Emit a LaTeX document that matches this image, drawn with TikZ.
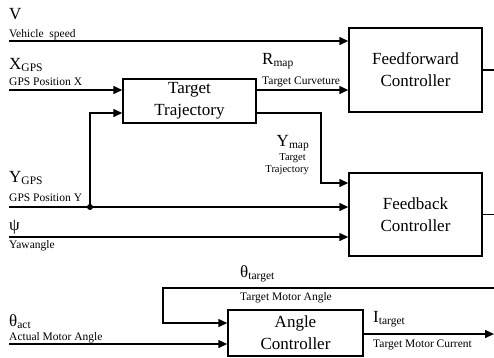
\documentclass[tikz,border=0pt]{standalone}
\usepackage{fontspec}
\setmainfont{Liberation Serif}
\usetikzlibrary{arrows.meta}
\newcommand{\lsub}[1]{\raisebox{-2pt}{\fontsize{11.5}{12}\selectfont #1}}

\begin{document}
\begin{tikzpicture}[x=1pt,y=-1pt,
  block/.style={draw,line width=1.5pt,inner sep=0pt,align=center,font=\fontsize{17}{22}\selectfont},
  sig/.style={line width=1.5pt,-{Triangle[length=9pt,width=8pt]}},
  wire/.style={line width=1.5pt},
  big/.style={inner sep=0pt,anchor=base west,font=\fontsize{17}{17}\selectfont},
  small/.style={inner sep=0pt,anchor=base west,font=\fontsize{11.5}{12}\selectfont},
  tiny/.style={inner sep=0pt,anchor=base east,font=\fontsize{10.5}{11}\selectfont}]
\useasboundingbox (0,0) rectangle (494,357);
\node[block,minimum width=133pt,minimum height=84pt] (ff) at (415.5,70) {Feedforward\\Controller};
\node[block,minimum width=133pt,minimum height=83pt] (fb) at (415.5,214.5) {Feedback\\Controller};
\node[block,minimum width=133pt,minimum height=44pt] (tt) at (189.5,101) {Target\\Trajectory};
\node[block,minimum width=135pt,minimum height=46pt] (ac) at (295.5,333) {Angle\\Controller};

\node[big] (vlab) at (9,19) {V};
\node[small] (vtxt) at (9,37) {Vehicle\ \ speed};
\node[big] (xlab) at (9,69) {X\lsub{GPS}};
\node[small] (xtxt) at (9,85) {GPS Position X};
\node[big] (rlab) at (262,64) {R\lsub{map}};
\node[small] (rtxt) at (262,84) {Target Curveture};
\node[big,anchor=base east] (ymlab) at (309,146) {Y\lsub{map}};
\node[tiny] (ymtxt) at (306,160) {Target};
\node[tiny] (ymtxtb) at (309,172) {Trajectory};
\node[big] (yglab) at (9,182) {Y\lsub{GPS}};
\node[small] (ygtxt) at (9,201) {GPS Position Y};
\node[big] (psilab) at (9,230) {ψ};
\node[small] (psitxt) at (9,248) {Yawangle};
\node[big] (thtlab) at (240,277) {θ\lsub{target}};
\node[small] (thttxt) at (240,300) {Target Motor Angle};
\node[big] (thalab) at (9,326) {θ\lsub{act}};
\node[small] (thatxt) at (9,340) {Actual Motor Angle};
\node[big] (itlab) at (373,322) {I\lsub{target}};
\node[small] (ittxt) at (373,347) {Target Motor Current};

\coordinate (vin) at (9,41);
\coordinate (xin) at (9,90);
\coordinate (ygin) at (9,207);
\coordinate (psiin) at (9,237);
\coordinate (join) at (90,207);
\coordinate (ttlow) at (90,113);
\coordinate (ymbend) at (321,183);
\coordinate (ffout) at (494,70);
\coordinate (fbout) at (494,214.5);
\coordinate (thin) at (494,288);
\coordinate (thbend) at (163,323);
\coordinate (actin) at (9,344);
\coordinate (iout) at (494,334);

\draw[sig] (vin) -- (vin -| ff.west);
\draw[sig] (xin) -- (xin -| tt.west);
\draw[sig] (join) -- (ttlow) -- (ttlow -| tt.west);
\draw[sig] (tt.east |- xin) -- (ff.west |- xin);
\draw[sig] (tt.east |- ttlow) -| (ymbend) -- (ymbend -| fb.west);
\draw[sig] (ygin) -- (ygin -| fb.west);
\fill (join) circle (3);
\draw[sig] (psiin) -- (psiin -| fb.west);
\draw[wire] (ff.east) -- (ffout);
\draw[wire] (fb.east) -- (fbout);
\draw[sig] (thin) -| (thbend) -- (thbend -| ac.west);
\draw[sig] (actin) -- (actin -| ac.west);
\draw[sig] (ac.east |- iout) -- (iout);
\end{tikzpicture}
\end{document}
